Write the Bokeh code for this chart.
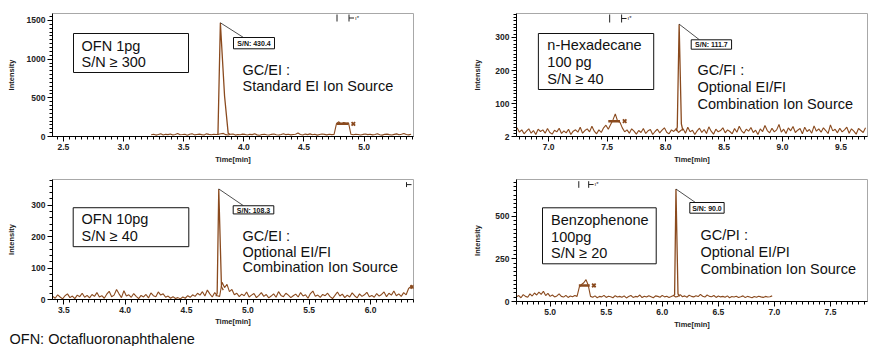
from bokeh.plotting import figure
from bokeh.layouts import row, column
from bokeh.models import (Label, BoxAnnotation, SingleIntervalTicker, FixedTicker, Range1d,
                          PrintfTickFormatter, Title)
from bokeh.embed import file_html
from bokeh.resources import INLINE

BROWN = "#8a4a1e"
FONT = "Liberation Sans"
TXT_SHIFT = 6  # labels render lower than the nominal alphabetic baseline

# ---------------- data ----------------
# Panel A: OFN 1pg, GC/EI standard source
a_t0, a_dt = 3.23, 0.02
a_y = [22, 30, 18, 26, 35, 20, 28, 24, 33, 19,
       27, 38, 22, 25, 30, 17, 29, 36, 21, 26,
       31, 24, 19, 34, 27, 22, 30, 25, 28, 35,
       40, 24, 20, 29, 33, 18, 26, 22, 31, 27,
       19, 28, 24, 35, 21, 17, 26, 30, 23, 20,
       28, 33, 22, 19, 27, 36, 24, 30, 21, 25,
       29, 45, 26, 20, 31, 24, 34, 22, 28, 18,
       25, 32, 27, 21, 30, 24, 28, 165, 190, 158,
       182, 170, 175, 28, 22, 30, 25, 19, 27, 33,
       24, 29, 21, 26, 35, 23, 18, 28, 31, 24,
       20, 27, 34, 22, 29, 40, 26, 21, 30]
a_peak_t = [3.775, 3.785, 3.805, 3.84, 3.87, 3.885]
a_peak_y = [25, 30, 1470, 520, 40, 28]
a_mark_t = [4.772, 4.87]
a_mark_y = [164, 164]
a_x_t = [4.91]
a_x_y = [164]
a_sn = "S/N: 430.4"

# Panel B: n-Hexadecane 100 pg, GC/FI
b_t0, b_dt = 6.73, 0.02
b_y = [28, 15, 22, 10, 18, 25, 12, 20, 8, 24,
       17, 22, 12, 26, 14, 9, 21, 16, 27, 11,
       19, 13, 24, 8, 18, 22, 15, 30, 12, 20,
       25, 16, 33, 18, 10, 22, 14, 28, 36, 24,
       38, 52, 70, 48, 45, 28, 16, 22, 12, 25,
       18, 9, 20, 14, 26, 11, 19, 23, 8, 17,
       24, 13, 21, 28, 15, 10, 22, 17, 26, 14,
       20, 25, 12, 30, 16, 21, 8, 19, 27, 14,
       23, 11, 31, 18, 9, 24, 16, 20, 28, 13,
       22, 17, 10, 26, 15, 33, 19, 12, 24, 18,
       29, 14, 21, 8, 25, 17, 35, 20, 13, 27,
       16, 22, 38, 15, 24, 11, 28, 19, 32, 14,
       21, 26, 10, 30, 17, 23, 12, 34, 18, 25,
       15, 28, 20, 11, 37, 19, 24, 13, 27, 16,
       22, 30, 12, 25, 18, 9, 26, 20, 14, 28]
b_peak_t = [8.09, 8.10, 8.116, 8.135, 8.148]
b_peak_y = [18, 30, 340, 40, 20]
b_mark_t = [7.51, 7.61]
b_mark_y = [48, 48]
b_x_t = [7.65]
b_x_y = [48]
b_sn = "S/N: 111.7"

# Panel C: OFN 10pg, GC/EI with EI/FI source
c_t0, c_dt = 3.41, 0.02
c_y = [10, 4, 15, 8, 2, 12, 18, 6, 11, 3,
       14, 9, 20, 7, 13, 5, 16, 10, 22, 8,
       12, 4, 17, 26, 9, 14, 32, 18, 6, 28,
       11, 15, 7, 19, 10, 3, 13, 8, 16, 5,
       21, 12, 9, 24, 14, 18, 7, 11, 4, 9,
       3, 6, 2, 8, 4, 12, 7, 15, 10, 20,
       14, 25, 11, 30, 18, 8, 22, 12, 10, 55,
       38, 48, 25, 32, 15, 20, 9, 17, 12, 24,
       8, 14, 19, 6, 13, 22, 10, 16, 5, 11,
       18, 7, 25, 13, 9, 20, 14, 6, 12, 17,
       8, 22, 11, 15, 4, 19, 27, 10, 14, 7,
       16, 12, 20, 9, 3, 13, 24, 11, 17, 6,
       14, 8, 21, 12, 5, 18, 10, 15, 23, 9,
       13, 7, 19, 11, 16, 24, 9, 20, 14, 27,
       12, 18, 10, 22, 15, 35, 42, 38]
c_peak_t = [4.74, 4.75, 4.763, 4.785, 4.80]
c_peak_y = [10, 20, 352, 40, 30]
c_mark_t = [6.325, 6.345]
c_mark_y = [40, 40]
c_x_t = [6.34]
c_x_y = [40]
c_sn = "S/N: 108.3"

# Panel D: Benzophenone 100pg, GC/PI
d_t0, d_dt = 4.70, 0.02
d_y = [28, 35, 22, 40, 30, 25, 45, 32, 50, 38,
       55, 42, 60, 35, 48, 30, 38, 27, 33, 45,
       30, 26, 36, 24, 32, 28, 35, 30, 85, 100,
       110, 128, 95, 30, 25, 33, 22, 30, 27, 36,
       24, 31, 28, 22, 34, 26, 30, 25, 33, 21,
       29, 35, 24, 30, 27, 38, 23, 31, 26, 34,
       28, 22, 33, 30, 25, 36, 27, 31, 24, 29,
       35, 26, 30, 40, 28, 33, 25, 37, 30, 27,
       34, 29, 42, 31, 26, 38, 30, 28, 35, 24,
       32, 27, 30, 25, 33, 22, 29, 26, 31, 24,
       28, 33, 23, 30, 26, 22, 29, 25, 31, 27,
       24, 30, 26, 28, 33]
d_peak_t = [6.10, 6.11, 6.122, 6.14, 6.155]
d_peak_y = [35, 40, 660, 45, 30]
d_mark_t = [5.256, 5.353]
d_mark_y = [94, 94]
d_x_t = [5.39]
d_x_y = [94]
d_sn = "S/N: 90.0"

footnote = "OFN: Octafluoronaphthalene"


# ---------------- layout helpers ----------------
def make_panel(spec):
    L, T, R, B = spec["frame"]
    ox, oy, W, H = spec["canvas"]
    x0, x1 = spec["xr"]
    y0, y1 = spec["yr"]
    p = figure(width=W, height=H, x_range=Range1d(x0, x1), y_range=Range1d(y0, y1),
               output_backend="svg", toolbar_location=None,
               min_border_left=L - ox, min_border_right=ox + W - R,
               min_border_top=T - oy, min_border_bottom=oy + H - B)
    p.xgrid.visible = False
    p.ygrid.visible = False
    p.outline_line_color = "#a8a8a8"
    p.outline_line_width = 1
    p.background_fill_color = "white"
    p.border_fill_color = "white"

    def dx(X):
        return x0 + (X - L) / (R - L) * (x1 - x0)

    def dy(Y):
        return y0 + (B - Y) / (B - T) * (y1 - y0)

    p.xaxis.ticker = spec["xticker"]
    p.xaxis.formatter = PrintfTickFormatter(format="%.1f")
    p.yaxis.ticker = spec["yticker"]
    for ax in (p.xaxis[0], p.yaxis[0]):
        ax.axis_line_color = "black"
        ax.axis_line_width = 1
        ax.major_tick_line_color = "black"
        ax.minor_tick_line_color = "black"
        ax.major_tick_in = 0
        ax.major_tick_out = 5
        ax.minor_tick_in = 0
        ax.minor_tick_out = 3
        ax.major_label_text_font = FONT
        ax.major_label_text_font_style = "bold"
        ax.major_label_text_font_size = "8.5px"
        ax.major_label_text_color = "#222"
        ax.major_label_standoff = 2
        ax.axis_label_text_font = FONT
        ax.axis_label_text_font_style = "bold"
        ax.axis_label_text_font_size = "7.5px"
        ax.axis_label_text_color = "#222"
    p.xaxis.axis_label = "Time[min]"
    p.yaxis.axis_label = "Intensity"
    p.xaxis.axis_label_standoff = spec.get("xstand", 2)
    p.yaxis.axis_label_standoff = spec["ystand"]

    d = spec["data"]
    t = [round(d["t0"] + i * d["dt"], 4) for i in range(len(d["y"]))]
    p.line(t, d["y"], line_color=BROWN, line_width=1.1)
    p.line(d["peak_t"], d["peak_y"], line_color=BROWN, line_width=1.3)
    # integration marks
    p.line(d["mark_t"], d["mark_y"], line_color=BROWN, line_width=2.5)
    p.scatter(d["x_t"], d["x_y"], marker="x", size=5, line_color=BROWN, line_width=1.8)
    # apex leader + S/N box
    k = d["peak_y"].index(max(d["peak_y"]))
    apex = (d["peak_t"][k], d["peak_y"][k])
    sl, st, sr, sb = spec["snbox"]
    ex, ey = spec["leader_end"]
    p.line([apex[0], dx(ex)], [apex[1], dy(ey)], line_color="#222", line_width=0.8)
    p.add_layout(BoxAnnotation(left=dx(sl), right=dx(sr), top=dy(st), bottom=dy(sb),
                               fill_color="white", fill_alpha=1, line_color="#111",
                               line_width=1, line_alpha=1))
    p.add_layout(Label(x=dx((sl + sr) / 2), y=dy((st + sb) / 2 + 0.3), text=d["sn"],
                       text_font=FONT, text_font_style="bold", text_font_size="7px",
                       text_align="center", text_baseline="middle", text_color="#111"))
    # sample box
    bl, bt, br, bb = spec["box"]
    p.add_layout(BoxAnnotation(left=dx(bl), right=dx(br), top=dy(bt), bottom=dy(bb),
                               fill_alpha=0, line_color="#111", line_width=1, line_alpha=1))
    for txt, X, Y in spec["texts"]:
        p.add_layout(Label(x=dx(X), y=dy(Y - TXT_SHIFT), text=txt, text_font=FONT,
                           text_font_size="14.5px", text_align="left",
                           text_baseline="alphabetic", text_color="#111"))
    # event markers at the top
    for X in spec["bars"]:
        p.line([dx(X), dx(X)], [dy(spec["bar_y"][0]), dy(spec["bar_y"][1])],
               line_color="#222", line_width=1)
    for X in spec["arrows"]:
        ym = (spec["bar_y"][0] + spec["bar_y"][1]) / 2
        p.line([dx(X), dx(X)], [dy(spec["bar_y"][0]), dy(spec["bar_y"][1])],
               line_color="#222", line_width=1)
        p.line([dx(X), dx(X + 5)], [dy(ym), dy(ym)], line_color="#222", line_width=1)
        if spec.get("star", True):
            p.add_layout(Label(x=dx(X + 6), y=dy(ym + 2.5), text="ı*", text_font=FONT,
                               text_font_size="6px", text_color="#222"))
    return p


specA = dict(frame=(52, 13, 413, 136), canvas=(0, 0, 440, 170), xr=(2.41, 5.41), yr=(0, 1590),
             xticker=SingleIntervalTicker(interval=0.5, num_minor_ticks=10),
             yticker=SingleIntervalTicker(interval=500, num_minor_ticks=10), ystand=8,
             data=dict(t0=a_t0, dt=a_dt, y=a_y, peak_t=a_peak_t, peak_y=a_peak_y,
                       mark_t=a_mark_t, mark_y=a_mark_y, x_t=a_x_t, x_y=a_x_y, sn=a_sn),
             snbox=(233, 37, 274, 48.3), leader_end=(243, 37),
             box=(73, 33, 188, 72),
             texts=[("OFN 1pg", 81, 51), ("S/N \u2265 300", 81, 67),
                    ("GC/EI :", 242, 75), ("Standard EI Ion Source", 242, 91)],
             bars=[336.5], arrows=[348.5], bar_y=(14, 21))

specB = dict(frame=(516, 13, 869, 136), canvas=(440, 0, 438, 170), xr=(6.725, 9.727), yr=(2, 372),
             xticker=SingleIntervalTicker(interval=0.5, num_minor_ticks=10),
             yticker=FixedTicker(ticks=[2, 100, 200, 300], minor_ticks=list(range(10, 380, 10))),
             ystand=10,
             data=dict(t0=b_t0, dt=b_dt, y=b_y, peak_t=b_peak_t, peak_y=b_peak_y,
                       mark_t=b_mark_t, mark_y=b_mark_y, x_t=b_x_t, x_y=b_x_y, sn=b_sn),
             snbox=(691.7, 39.3, 732.3, 48.7), leader_end=(700, 39.3),
             box=(538, 33, 654, 89),
             texts=[("n-Hexadecane", 547, 50.5), ("100 pg", 547, 67.5), ("S/N \u2265 40", 547, 84.5),
                    ("GC/FI :", 698, 75.5), ("Optional EI/FI", 698, 92.5),
                    ("Combination Ion Source", 698, 109.5)],
             bars=[609.7], arrows=[621.7], bar_y=(14, 22))

specC = dict(frame=(52, 179, 413, 301), canvas=(0, 170, 440, 176), xr=(3.408, 6.35), yr=(0, 382),
             xticker=SingleIntervalTicker(interval=0.5, num_minor_ticks=10),
             yticker=SingleIntervalTicker(interval=100, num_minor_ticks=5), ystand=12, xstand=1,
             data=dict(t0=c_t0, dt=c_dt, y=c_y, peak_t=c_peak_t, peak_y=c_peak_y,
                       mark_t=c_mark_t, mark_y=c_mark_y, x_t=c_x_t, x_y=c_x_y, sn=c_sn),
             snbox=(232.7, 205.7, 273.3, 214), leader_end=(243, 205.7),
             box=(72.7, 207.7, 188.3, 247.3),
             texts=[("OFN 10pg", 81, 225.4), ("S/N \u2265 40", 81, 242),
                    ("GC/EI :", 242, 242), ("Optional EI/FI", 242, 258.7),
                    ("Combination Ion Source", 242, 274.4)],
             bars=[], arrows=[406], bar_y=(181.7, 186.7), star=False)

specD = dict(frame=(512, 179, 867, 301), canvas=(440, 170, 438, 176), xr=(4.70, 7.83), yr=(0, 716),
             xticker=SingleIntervalTicker(interval=0.5, num_minor_ticks=10),
             yticker=SingleIntervalTicker(interval=250, num_minor_ticks=10), ystand=10,
             data=dict(t0=d_t0, dt=d_dt, y=d_y, peak_t=d_peak_t, peak_y=d_peak_y,
                       mark_t=d_mark_t, mark_y=d_mark_y, x_t=d_x_t, x_y=d_x_y, sn=d_sn),
             snbox=(687.3, 202, 722, 212.7), leader_end=(693, 202),
             box=(538.3, 207.3, 653.3, 263.3),
             texts=[("Benzophenone", 547, 225.4), ("100pg", 547, 242), ("S/N \u2265 20", 547, 258.7),
                    ("GC/PI :", 698, 240.4), ("Optional EI/PI", 698, 257.7),
                    ("Combination Ion Source", 698, 274.4)],
             bars=[575], arrows=[585], bar_y=(180.7, 187.3))

pA = make_panel(specA)
pB = make_panel(specB)
pC = make_panel(specC)
pD = make_panel(specD)

# footnote as a title strip under the lower-left panel's axis
pC.add_layout(Title(text=footnote, align="left", offset=-43, standoff=0,
                    text_font=FONT, text_font_size="14.5px", text_font_style="normal",
                    text_line_height=0.7, text_color="#111"), "below")

layout = row(column(pA, pC), column(pB, pD))
open("out.html", "w").write(file_html(layout, INLINE))
